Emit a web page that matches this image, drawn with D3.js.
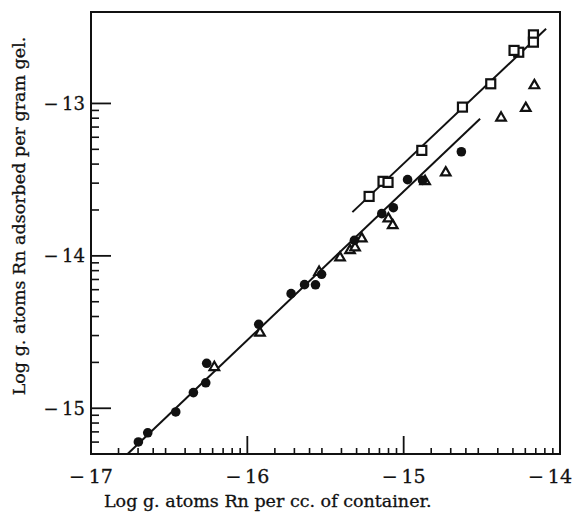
<!DOCTYPE html>
<html lang="en">
<head>
<meta charset="utf-8">
<title>Rn adsorption on gel</title>
<script src="https://d3js.org/d3.v7.min.js"></script>
<style>
  body { margin: 0; background: #fff; }
  svg text { font-family: "DejaVu Serif", "Liberation Serif", serif; fill: #111; stroke: #111; stroke-width: 0.3; }
</style>
</head>
<body>
<svg id="chart" width="574" height="514"></svg>
<script>
// values (all in log10 units)
var squareX = [-14.170, -14.170, -14.264, -14.294, -14.443, -14.624, -14.884, -15.132, -15.100, -15.221];
var squareY = [-12.550, -12.598, -12.664, -12.652, -12.871, -13.024, -13.308, -13.511, -13.518, -13.610];

var circleX = [-16.697, -16.637, -16.458, -16.345, -16.266, -16.260, -15.927, -15.720, -15.634, -15.564,
               -15.525, -15.315, -15.140, -15.066, -14.975, -14.879, -14.631];
var circleY = [-15.221, -15.161, -15.024, -14.897, -14.833, -14.705, -14.449, -14.248, -14.189, -14.190,
               -14.121, -13.898, -13.723, -13.684, -13.500, -13.505, -13.317];

var triangleX = [-16.211, -15.919, -15.541, -15.407, -15.343, -15.311, -15.268, -15.098, -15.070, -14.863,
                 -14.731, -14.377, -14.219, -14.164];
var triangleY = [-14.731, -14.505, -14.106, -14.012, -13.964, -13.946, -13.887, -13.756, -13.800, -13.511,
                 -13.454, -13.094, -13.031, -12.882];

// drawn straight lines: [x1, x2] and [y1, y2]
var upperLineX = [-15.328, -14.089];
var upperLineY = [-13.713, -12.510];
var lowerLineX = [-16.768, -14.511];
var lowerLineY = [-15.302, -13.100];

var xTickLabels = [-17, -16, -15, -14];
var yTickLabels = [-15, -14, -13];

var W = 574, H = 514;
var margin = {left: 91, top: 12, right: 14, bottom: 60};
var ink = "#111";

var svg = d3.select("#chart");

var x = d3.scaleLinear().domain([-17, -14]).range([margin.left, W - margin.right]);
var y = d3.scaleLinear().domain([-15.30, -12.40]).range([H - margin.bottom, margin.top]);

// minor ticks: log spacing inside each decade
var xMinor = [], yMinor = [];
[-17, -16, -15].forEach(function (d) {
  [1.5, 2, 2.5, 3, 4, 5, 6, 7, 8, 9].forEach(function (k) { xMinor.push(d + Math.log10(k)); });
});
[-16, -15, -14].forEach(function (d) {
  [2, 3, 4, 5, 6, 7, 8, 9].forEach(function (k) {
    var v = d + Math.log10(k);
    if (v > y.domain()[0]) yMinor.push(v);
  });
});

var x0 = x.range()[0], x1 = x.range()[1];
var yb = y.range()[0], yt = y.range()[1];

// frame
svg.append("rect")
  .attr("x", x0).attr("y", yt)
  .attr("width", x1 - x0).attr("height", yb - yt)
  .attr("fill", "none").attr("stroke", ink).attr("stroke-width", 2);

// x ticks (pointing up from the bottom)
svg.append("g").selectAll("line").data(xMinor).join("line")
  .attr("x1", function (d) { return x(d); }).attr("x2", function (d) { return x(d); })
  .attr("y1", yb).attr("y2", yb - 6)
  .attr("stroke", ink).attr("stroke-width", 1.6);
svg.append("g").selectAll("line").data([-16, -15]).join("line")
  .attr("x1", function (d) { return x(d); }).attr("x2", function (d) { return x(d); })
  .attr("y1", yb).attr("y2", yb - 18)
  .attr("stroke", ink).attr("stroke-width", 1.8);

// y ticks (pointing right from the left edge)
svg.append("g").selectAll("line").data(yMinor).join("line")
  .attr("x1", x0).attr("x2", x0 + 8)
  .attr("y1", function (d) { return y(d); }).attr("y2", function (d) { return y(d); })
  .attr("stroke", ink).attr("stroke-width", 1.6);
svg.append("g").selectAll("line").data(yTickLabels).join("line")
  .attr("x1", x0).attr("x2", x0 + 20)
  .attr("y1", function (d) { return y(d); }).attr("y2", function (d) { return y(d); })
  .attr("stroke", ink).attr("stroke-width", 1.8);

function fmt(v) { return "\u2212\u2009" + Math.abs(v); }

// tick labels
svg.append("g").selectAll("text").data(xTickLabels).join("text")
  .attr("x", function (d) { return d === -14 ? x1 + 12 : x(d); })
  .attr("y", 483)
  .attr("text-anchor", function (d) { return d === -14 ? "end" : "middle"; })
  .attr("font-size", 19)
  .text(fmt);

svg.append("g").selectAll("text").data(yTickLabels).join("text")
  .attr("x", x0 - 6)
  .attr("y", function (d) { return y(d); })
  .attr("dy", "0.35em")
  .attr("text-anchor", "end")
  .attr("font-size", 18)
  .text(fmt);

// axis titles
svg.append("text")
  .attr("x", 104).attr("y", 507)
  .attr("font-size", 17.5)
  .text("Log g. atoms Rn per cc. of container.");

svg.append("text")
  .attr("transform", "translate(25," + 216 + ") rotate(-90)")
  .attr("text-anchor", "middle")
  .attr("font-size", 17.5)
  .text("Log g. atoms Rn adsorbed per gram gel.");

// fitted lines
var line = d3.line().x(function (d) { return x(d[0]); }).y(function (d) { return y(d[1]); });
svg.append("path")
  .attr("d", line(d3.zip(upperLineX, upperLineY)))
  .attr("fill", "none").attr("stroke", ink).attr("stroke-width", 2);
svg.append("path")
  .attr("d", line(d3.zip(lowerLineX, lowerLineY)))
  .attr("fill", "none").attr("stroke", ink).attr("stroke-width", 2);

// markers
svg.append("g").selectAll("rect").data(d3.zip(squareX, squareY)).join("rect")
  .attr("x", function (d) { return x(d[0]) - 4.5; })
  .attr("y", function (d) { return y(d[1]) - 4.5; })
  .attr("width", 9).attr("height", 9)
  .attr("fill", "#fff").attr("stroke", ink).attr("stroke-width", 2.2);

svg.append("g").selectAll("path").data(d3.zip(triangleX, triangleY)).join("path")
  .attr("transform", function (d) { return "translate(" + x(d[0]) + "," + y(d[1]) + ")"; })
  .attr("d", d3.symbol(d3.symbolTriangle, 40))
  .attr("fill", "#fff").attr("stroke", ink).attr("stroke-width", 2.2);

svg.append("g").selectAll("circle").data(d3.zip(circleX, circleY)).join("circle")
  .attr("cx", function (d) { return x(d[0]); })
  .attr("cy", function (d) { return y(d[1]); })
  .attr("r", 4.8)
  .attr("fill", ink);
</script>
</body>
</html>
